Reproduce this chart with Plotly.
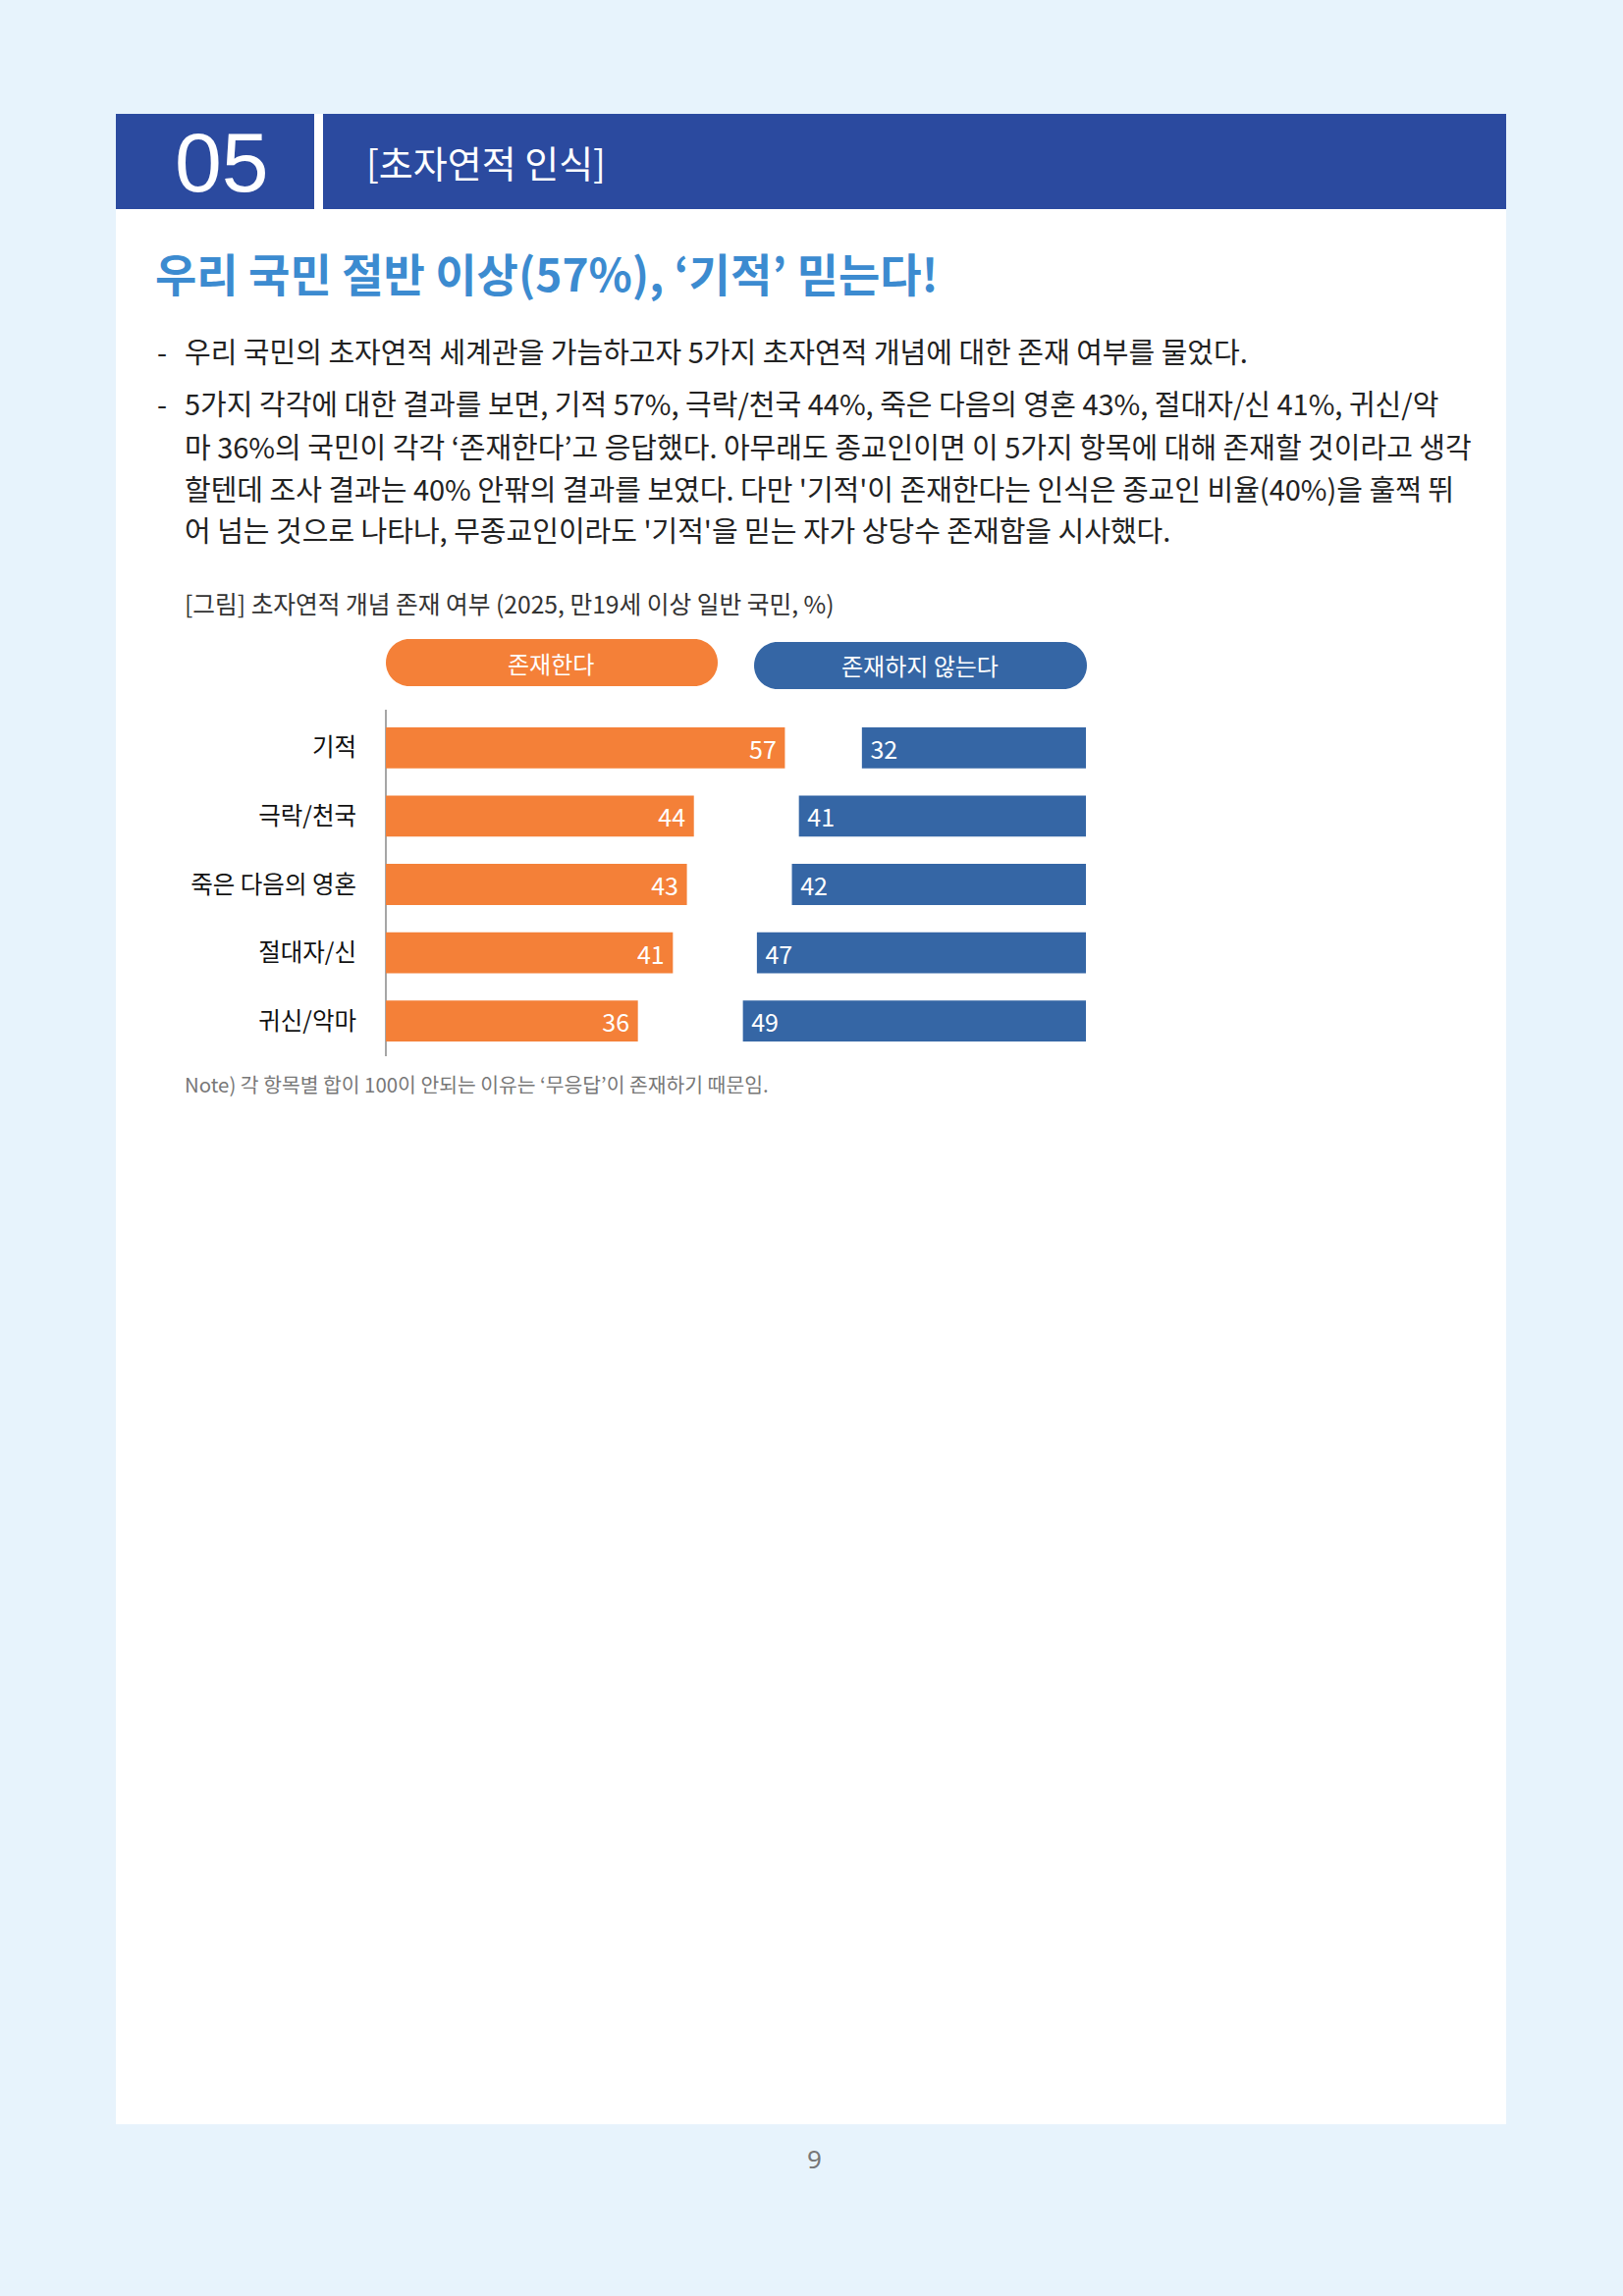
import plotly.graph_objects as go

# ---- data ----
categories = ["기적", "극락/천국", "죽은 다음의 영혼", "절대자/신", "귀신/악마"]
exists = [57, 44, 43, 41, 36]
not_exists = [32, 41, 42, 47, 49]
series_names = ["존재한다", "존재하지 않는다"]

section_no = "05"
section_title = "[초자연적 인식]"
headline = "우리 국민 절반 이상(57%), ‘기적’ 믿는다!"
body_lines = [
    "우리 국민의 초자연적 세계관을 가늠하고자 5가지 초자연적 개념에 대한 존재 여부를 물었다.",
    "5가지 각각에 대한 결과를 보면, 기적 57%, 극락/천국 44%, 죽은 다음의 영혼 43%, 절대자/신 41%, 귀신/악",
    "마 36%의 국민이 각각 ‘존재한다’고 응답했다. 아무래도 종교인이면 이 5가지 항목에 대해 존재할 것이라고 생각",
    "할텐데 조사 결과는 40% 안팎의 결과를 보였다. 다만 '기적'이 존재한다는 인식은 종교인 비율(40%)을 훌쩍 뛰",
    "어 넘는 것으로 나타나, 무종교인이라도 '기적'을 믿는 자가 상당수 존재함을 시사했다.",
]
bullet_rows = [0, 1]
caption = "[그림] 초자연적 개념 존재 여부 (2025, 만19세 이상 일반 국민, %)"
note = "Note) 각 항목별 합이 100이 안되는 이유는 ‘무응답’이 존재하기 때문임."
page_no = "9"

W, H = 1653, 2339
ORANGE = "#F48038"
BLUE = "#3566A5"
NAVY = "#2B4A9F"
PAGE_BG = "#E7F3FC"
KR = "Noto Sans CJK KR"
NBSP = "\u00a0"


def px(x):
    return x / W


def py(y):
    return 1 - y / H


fig = go.Figure()

fig.add_trace(go.Bar(
    y=categories, x=exists, base=0, orientation="h",
    marker=dict(color=ORANGE, line=dict(width=0)),
    width=0.6, name=series_names[0],
    texttemplate="%{x}" + NBSP, textposition="inside", insidetextanchor="end",
    textangle=0, constraintext="none",
    textfont=dict(color="white", size=25, family=KR),
    hoverinfo="skip", showlegend=False,
))
fig.add_trace(go.Bar(
    y=categories, x=not_exists, base=[100 - v for v in not_exists], orientation="h",
    marker=dict(color=BLUE, line=dict(width=0)),
    width=0.6, name=series_names[1],
    texttemplate=NBSP + "%{x}", textposition="inside", insidetextanchor="start",
    textangle=0, constraintext="none",
    textfont=dict(color="white", size=25, family=KR),
    hoverinfo="skip", showlegend=False,
))

shapes = []
annotations = []

# white page panel
shapes.append(dict(type="rect", xref="paper", yref="paper", layer="below",
                   x0=px(118), x1=px(1534), y0=py(2164), y1=py(116),
                   fillcolor="white", line=dict(width=0)))
# header boxes
shapes.append(dict(type="rect", xref="paper", yref="paper", layer="below",
                   x0=px(118), x1=px(320), y0=py(213), y1=py(116),
                   fillcolor=NAVY, line=dict(width=0)))
shapes.append(dict(type="rect", xref="paper", yref="paper", layer="below",
                   x0=px(329), x1=px(1534), y0=py(213), y1=py(116),
                   fillcolor=NAVY, line=dict(width=0)))
# vertical axis line of the chart
shapes.append(dict(type="line", xref="paper", yref="paper", layer="below",
                   x0=px(393), x1=px(393), y0=py(1076), y1=py(723),
                   line=dict(color="#A6A6A6", width=2)))


def pill(x0, x1, y0, y1, color):
    # rounded "pill" outline built from bezier quarter circles
    r = (y1 - y0) / 2
    k = 0.5523 * r
    p = f"M {px(x0 + r)},{py(y0)} L {px(x1 - r)},{py(y0)} "
    p += (f"C {px(x1 - r + k)},{py(y0)} {px(x1)},{py(y0 + r - k)} {px(x1)},{py(y0 + r)} "
          f"C {px(x1)},{py(y0 + r + k)} {px(x1 - r + k)},{py(y1)} {px(x1 - r)},{py(y1)} ")
    p += f"L {px(x0 + r)},{py(y1)} "
    p += (f"C {px(x0 + r - k)},{py(y1)} {px(x0)},{py(y1 - r + k)} {px(x0)},{py(y1 - r)} "
          f"C {px(x0)},{py(y0 + r - k)} {px(x0 + r - k)},{py(y0)} {px(x0 + r)},{py(y0)} Z")
    return dict(type="path", xref="paper", yref="paper", path=p,
                fillcolor=color, line=dict(width=0), layer="below")


shapes.append(pill(393, 731, 651, 699, ORANGE))
shapes.append(pill(768, 1107, 654, 702, BLUE))


def label(x, y, text, size, color, family=KR, xanchor="left"):
    annotations.append(dict(x=px(x), y=py(y), text=text, showarrow=False,
                            xref="paper", yref="paper", xanchor=xanchor, yanchor="middle",
                            font=dict(family=family, size=size, color=color)))


label(561, 675, series_names[0], 24, "white", xanchor="center")
label(937, 678, series_names[1], 24, "white", xanchor="center")

# header text
label(226, 165, section_no, 86, "white", family="Liberation Sans", xanchor="center")
label(371, 164, section_title, 38, "white")

# headline
label(156, 277, f"<b>{headline}</b>", 46, "#3C8BD0")

# body text
line_y = [357, 410, 454, 497, 539]
for i, (t, yy) in enumerate(zip(body_lines, line_y)):
    label(186, yy, t, 29, "#222222")
    if i in bullet_rows:
        label(158, yy, "-", 29, "#222222")

# caption + note + page number
label(186, 614, caption, 24.7, "#333333")
label(186, 1104, note, 20.4, "#777777")
label(829, 2199, page_no, 26, "#777777", family="Noto Sans", xanchor="center")

fig.update_layout(
    width=W, height=H,
    margin=dict(l=0, r=0, t=0, b=0),
    paper_bgcolor=PAGE_BG,
    plot_bgcolor="rgba(0,0,0,0)",
    barmode="overlay",
    xaxis=dict(domain=[px(393), px(1106)], range=[0, 100], visible=False, fixedrange=True),
    yaxis=dict(domain=[py(1075), py(727)], range=[4.5, -0.5], autorange=False,
               showline=False, showgrid=False,
               ticks="", ticklabelstandoff=29, zeroline=False, fixedrange=True,
               tickfont=dict(family=KR, size=24.5, color="#111111")),
    shapes=shapes,
    annotations=annotations,
)

fig.write_html(
    "out.html",
    config={"displayModeBar": False},
    post_script=f"document.body.style.margin='0';document.body.style.background='{PAGE_BG}';",
)
